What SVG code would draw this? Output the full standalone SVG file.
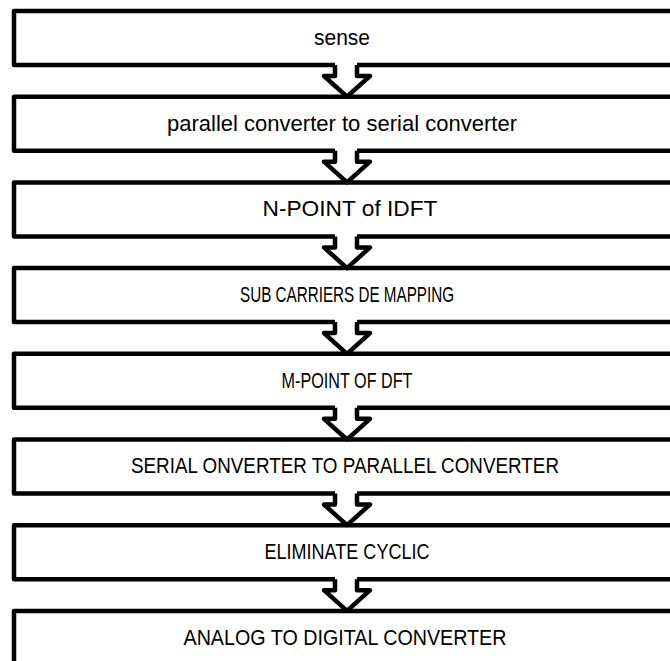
<svg xmlns="http://www.w3.org/2000/svg" width="670" height="661" viewBox="0 0 670 661">
<style>
.box{fill:none;stroke:#000;stroke-width:4.5;stroke-linejoin:round;stroke-linecap:butt}
.arr{fill:#fff;stroke:#000;stroke-width:4.5;stroke-linejoin:round;stroke-linecap:butt}
.t{font-family:"Liberation Sans",Arial,sans-serif;font-size:22px;fill:#000;text-anchor:middle}
</style>
<rect width="670" height="661" fill="#fff"/>
<g id="n1"><path class="box" d="M335,65 L14,65 L14,11 L690,11 L690,65 L357,65"/><text class="t" x="342" y="45" textLength="56" lengthAdjust="spacingAndGlyphs">sense</text></g>
<g id="n2"><path class="box" d="M335,150.7 L14,150.7 L14,96.7 L690,96.7 L690,150.7 L357,150.7"/><text class="t" x="342" y="130.5" textLength="350" lengthAdjust="spacingAndGlyphs">parallel  converter to serial converter</text></g>
<g id="n3"><path class="box" d="M335,236.4 L14,236.4 L14,182.4 L690,182.4 L690,236.4 L357,236.4"/><text class="t" x="350" y="216" textLength="175" lengthAdjust="spacingAndGlyphs">N-POINT of  IDFT</text></g>
<g id="n4"><path class="box" d="M335,322.1 L14,322.1 L14,268.1 L690,268.1 L690,322.1 L357,322.1"/><text class="t" x="347" y="302" textLength="214" lengthAdjust="spacingAndGlyphs">SUB CARRIERS DE MAPPING</text></g>
<g id="n5"><path class="box" d="M335,407.8 L14,407.8 L14,353.8 L690,353.8 L690,407.8 L357,407.8"/><text class="t" x="347" y="387.5" textLength="131" lengthAdjust="spacingAndGlyphs">M-POINT OF DFT</text></g>
<g id="n6"><path class="box" d="M335,493.5 L14,493.5 L14,439.5 L690,439.5 L690,493.5 L357,493.5"/><text class="t" x="345" y="473" textLength="428" lengthAdjust="spacingAndGlyphs">SERIAL ONVERTER TO PARALLEL CONVERTER</text></g>
<g id="n7"><path class="box" d="M335,579.2 L14,579.2 L14,525.2 L690,525.2 L690,579.2 L357,579.2"/><text class="t" x="347" y="559" textLength="165" lengthAdjust="spacingAndGlyphs">ELIMINATE CYCLIC</text></g>
<g id="n8"><path class="box" d="M14,680 L14,610.9 L690,610.9 L690,680"/><text class="t" x="345" y="644.5" textLength="323" lengthAdjust="spacingAndGlyphs">ANALOG TO DIGITAL CONVERTER</text></g>
<g id="connectors">
<path class="arr" d="M335,65 L335,76 L324,76 L347,96.7 L370,76 L357,76 L357,65"/>
<path class="arr" d="M335,150.7 L335,161.7 L324,161.7 L347,182.4 L370,161.7 L357,161.7 L357,150.7"/>
<path class="arr" d="M335,236.4 L335,247.4 L324,247.4 L347,268.1 L370,247.4 L357,247.4 L357,236.4"/>
<path class="arr" d="M335,322.1 L335,333.1 L324,333.1 L347,353.8 L370,333.1 L357,333.1 L357,322.1"/>
<path class="arr" d="M335,407.8 L335,418.8 L324,418.8 L347,439.5 L370,418.8 L357,418.8 L357,407.8"/>
<path class="arr" d="M335,493.5 L335,504.5 L324,504.5 L347,525.2 L370,504.5 L357,504.5 L357,493.5"/>
<path class="arr" d="M335,579.2 L335,590.2 L324,590.2 L347,610.9 L370,590.2 L357,590.2 L357,579.2"/>
</g>
</svg>
